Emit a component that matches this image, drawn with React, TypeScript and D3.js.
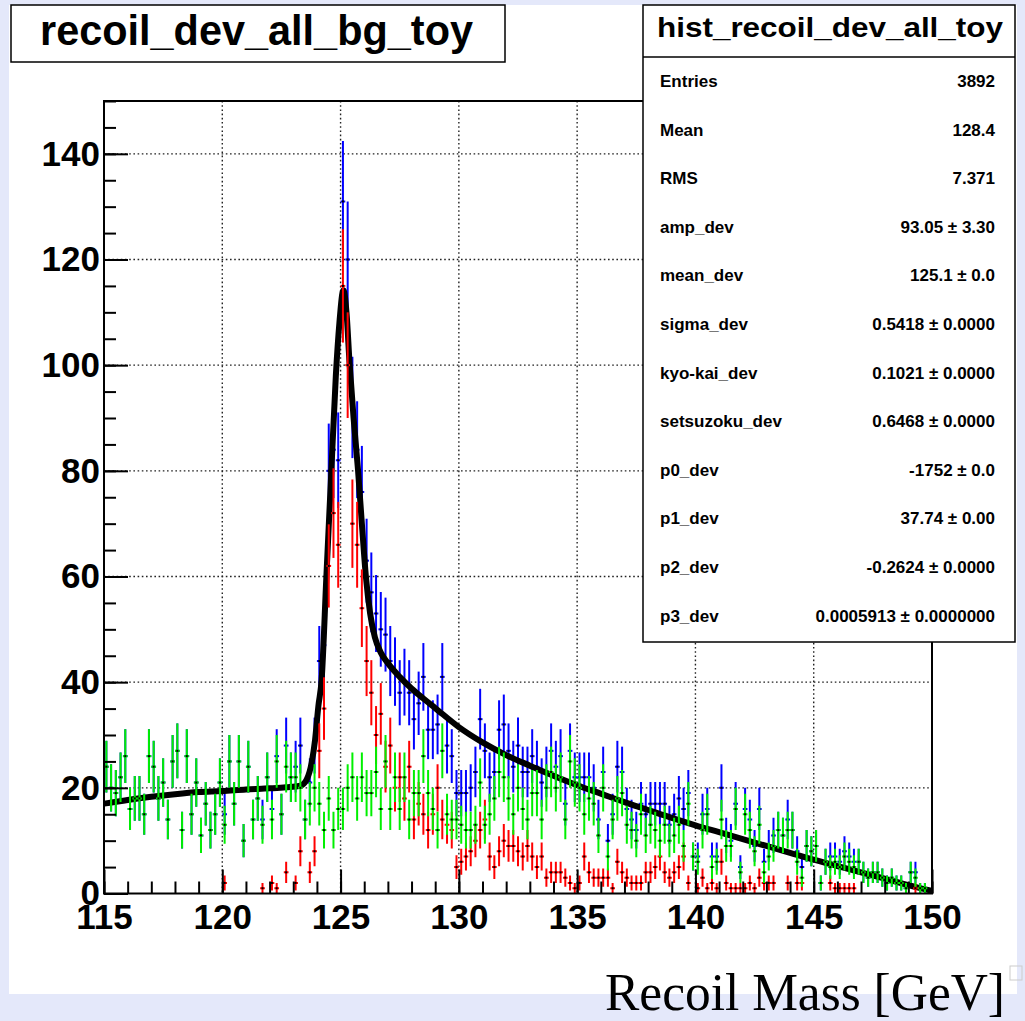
import React, { useEffect, useRef } from "react";
import * as d3 from "d3";

// histogram binning (x axis of the ROOT histograms)
const xMin = 115;
const xMax = 150;
const nBins = 175;

// background toy (green)
const bgCounts = [
  24, 20, 19, 22, 26, 16, 18, 18, 15, 26,
  24, 18, 21, 14, 25, 27, 12, 26, 15, 21,
  11, 17, 12, 15, 21, 13, 25, 17, 25, 10,
  24, 14, 18, 13, 22, 14, 25, 15, 24, 22,
  22, 20, 14, 17, 20, 17, 12, 18, 12, 16,
  16, 20, 22, 18, 22, 19, 19, 23, 16, 25,
  16, 22, 16, 22, 14, 19, 19, 26, 19, 16,
  12, 27, 15, 14, 14, 13, 12, 12, 13, 21,
  13, 15, 18, 23, 22, 18, 15, 20, 16, 14,
  19, 19, 14, 20, 23, 20, 22, 14, 25, 21,
  20, 15, 18, 17, 11, 20, 7, 14, 18, 19,
  13, 12, 10, 15, 11, 13, 12, 10, 13, 10,
  11, 13, 9, 17, 7, 6, 12, 15, 5, 6,
  14, 9, 9, 16, 4, 15, 12, 8, 13, 4,
  7, 9, 12, 11, 12, 12, 6, 3, 9, 8,
  9, 2, 6, 5, 6, 5, 7, 6, 5, 6,
  4, 3, 4, 4, 3, 2, 3, 2, 2, 1,
  4, 3, 1, 1, 0,
];

// signal toy (red)
const sigCounts = [
  0, 0, 0, 0, 0, 0, 0, 0, 0, 0,
  0, 0, 0, 0, 0, 0, 0, 0, 0, 0,
  0, 0, 0, 0, 0, 2, 0, 0, 0, 0,
  0, 0, 0, 1, 0, 2, 1, 0, 4, 0,
  2, 8, 0, 4, 8, 27, 35, 62, 72, 66,
  115, 100, 70, 66, 54, 44, 38, 30, 34, 24,
  28, 20, 22, 18, 24, 14, 17, 15, 12, 15,
  20, 14, 13, 12, 5, 6, 7, 8, 10, 12,
  14, 7, 5, 8, 10, 9, 9, 8, 7, 9,
  7, 5, 7, 3, 4, 4, 4, 3, 2, 1,
  2, 7, 4, 3, 3, 3, 3, 1, 6, 4,
  3, 2, 2, 2, 4, 4, 5, 7, 4, 3,
  4, 5, 7, 2, 0, 1, 3, 1, 2, 1,
  6, 2, 1, 1, 1, 1, 2, 1, 3, 2,
  2, 2, 0, 0, 2, 0, 2, 2, 0, 0,
  0, 0, 0, 2, 1, 1, 1, 1, 1, 0,
  0, 0, 0, 0, 0, 0, 0, 0, 0, 0,
  0, 1, 0, 0, 0,
];

// all toy (blue)
const allCounts = [
  24, 20, 19, 22, 26, 16, 18, 18, 15, 26,
  24, 18, 21, 14, 25, 27, 12, 26, 15, 21,
  11, 17, 12, 15, 21, 15, 25, 17, 25, 10,
  24, 14, 18, 14, 22, 16, 26, 15, 28, 22,
  24, 28, 14, 21, 28, 44, 47, 80, 84, 82,
  131, 120, 92, 84, 76, 63, 57, 53, 50, 49,
  44, 42, 38, 40, 38, 33, 36, 41, 31, 31,
  32, 41, 28, 26, 19, 19, 19, 20, 23, 33,
  27, 22, 23, 31, 32, 27, 24, 28, 23, 23,
  26, 24, 21, 23, 27, 24, 26, 17, 27, 22,
  22, 22, 22, 20, 14, 23, 10, 15, 24, 23,
  16, 14, 12, 17, 15, 17, 17, 17, 17, 13,
  15, 18, 16, 19, 7, 7, 15, 16, 7, 7,
  20, 11, 10, 17, 5, 16, 14, 9, 16, 6,
  9, 11, 12, 11, 14, 12, 8, 5, 9, 8,
  9, 2, 6, 7, 7, 6, 8, 7, 6, 6,
  4, 3, 4, 4, 3, 2, 3, 2, 2, 1,
  4, 4, 1, 1, 0,
];

// fitted curve
const fitX = [
  115, 116, 117, 118, 119, 120, 121, 122, 122.7, 123.3, 123.57, 123.78, 123.92,
  124.06, 124.2, 124.4, 124.6, 124.8, 124.95, 125.12, 125.25, 125.38, 125.55,
  125.74, 125.9, 126.07, 126.25, 126.45, 126.7, 127, 127.5, 128, 128.5,
  129, 130, 131, 132, 133, 134, 135, 136, 137, 138, 139,
  140, 141, 142, 143, 144, 145, 146, 147, 148, 149, 150,
];
const fitY = [
  17.0, 17.7, 18.3, 18.8, 19.2, 19.4, 19.7, 19.9, 20.1, 20.4, 21.6, 24.8, 29,
  35.4, 40.5, 60, 79, 98, 108, 114.2, 110, 100.4, 90,
  80, 70, 60, 53, 48.5, 45.6, 43.6, 41, 38.8, 36.9,
  35.1, 31.5, 28.6, 26.2, 24.2, 22.3, 20.5, 18.9, 17.3, 15.8, 14.3,
  12.9, 11.6, 10.3, 9.0, 7.7, 6.4, 5.2, 4.0, 2.8, 1.6, 0.5,
];

const xMajor = [115, 120, 125, 130, 135, 140, 145, 150];
const yMajor = [0, 20, 40, 60, 80, 100, 120, 140];
const xGrid = [120, 125, 130, 135, 140, 145];
const yGrid = [20, 40, 60, 80, 100, 120, 140];

const statLabels = [
  "Entries", "Mean", "RMS", "amp_dev", "mean_dev", "sigma_dev", "kyo-kai_dev",
  "setsuzoku_dev", "p0_dev", "p1_dev", "p2_dev", "p3_dev",
];
const statValues = [
  "3892", "128.4", "7.371", "93.05 \u00b1 3.30", "125.1 \u00b1 0.0",
  "0.5418 \u00b1 0.0000", "0.1021 \u00b1 0.0000", "0.6468 \u00b1 0.0000",
  "-1752 \u00b1 0.0", "37.74 \u00b1 0.00", "-0.2624 \u00b1 0.0000",
  "0.0005913 \u00b1 0.0000000",
];

const W = 1025;
const H = 1021;
const left = 104;
const right = 932;
const top = 101;
const bottom = 893.5;
const sans = "'Liberation Sans', Arial, Helvetica, sans-serif";

const x = d3.scaleLinear().domain([xMin, xMax]).range([left, right]);
const y = d3.scaleLinear().domain([0, 150]).range([bottom, top]);

function ErrorBars({ counts, color }: { counts: number[]; color: string }) {
  const bw = (xMax - xMin) / nBins;
  return (
    <g>
      {counts.map((n, i) => {
        if (n <= 0) return null;
        const lo = xMin + i * bw;
        const c = lo + bw / 2;
        const e = Math.sqrt(n);
        return (
          <g key={i}>
            <line x1={x(c)} x2={x(c)} y1={y(Math.max(0, n - e))} y2={y(n + e)} stroke={color} strokeWidth={2} />
            <line x1={x(lo)} x2={x(lo + bw)} y1={y(n)} y2={y(n)} stroke={color} strokeWidth={2} />
            <rect x={x(c) - 1} y={y(n) - 1} width={2} height={2} fill="#000" />
          </g>
        );
      })}
    </g>
  );
}

export default function App() {
  const axisRef = useRef<SVGGElement>(null);

  useEffect(() => {
    const g = d3.select(axisRef.current);
    g.selectAll("*").remove();

    const style = (sel: any) => {
      sel.select(".domain").remove();
      sel.selectAll("line").attr("stroke", "#000").attr("stroke-width", 2);
      sel.selectAll("text")
        .attr("fill", "#000")
        .style("font-family", sans)
        .style("font-weight", "bold")
        .style("font-size", "35px");
    };

    g.append("g")
      .attr("transform", `translate(0,${bottom})`)
      .call(d3.axisBottom(x).tickValues(d3.range(115, 151, 1)).tickSize(-12).tickFormat(() => ""))
      .call(style);
    g.append("g")
      .attr("transform", `translate(0,${bottom})`)
      .call(d3.axisBottom(x).tickValues(xMajor).tickSize(-24).tickPadding(11).tickFormat(d3.format("d")))
      .call(style);

    g.append("g")
      .attr("transform", `translate(${left},0)`)
      .call(d3.axisLeft(y).tickValues(d3.range(0, 151, 5)).tickSize(-12).tickFormat(() => ""))
      .call(style);
    g.append("g")
      .attr("transform", `translate(${left},0)`)
      .call(d3.axisLeft(y).tickValues(yMajor).tickSize(-24).tickPadding(4).tickFormat(d3.format("d")))
      .call(style);
  }, []);

  const fitLine = d3
    .line<number>()
    .x((d, i) => x(fitX[i]))
    .y((d) => y(d))
    .curve(d3.curveMonotoneX);

  return (
    <svg width={W} height={H} style={{ position: "absolute", left: 0, top: 0, display: "block" }}>
      <rect x={0} y={0} width={W} height={H} fill="#e4e8fa" />
      <rect x={9} y={5} width={1008} height={989} fill="#fff" />

      <defs>
        <clipPath id="plotClip">
          <rect x={left} y={top} width={right - left} height={bottom - top} />
        </clipPath>
      </defs>

      {/* grid */}
      <g stroke="#222" strokeWidth={1.4} strokeDasharray="1.6 2.6">
        {xGrid.map((v) => (
          <line key={v} x1={x(v)} x2={x(v)} y1={top} y2={bottom} />
        ))}
        {yGrid.map((v) => (
          <line key={v} x1={left} x2={right} y1={y(v)} y2={y(v)} />
        ))}
      </g>

      <g clipPath="url(#plotClip)">
        <ErrorBars counts={allCounts} color="#0000ff" />
        <path d={fitLine(fitY) || ""} fill="none" stroke="#000" strokeWidth={6} strokeLinejoin="round" />
        <ErrorBars counts={sigCounts} color="#ff0000" />
        <ErrorBars counts={bgCounts} color="#00f000" />
      </g>

      <g ref={axisRef} />
      <rect x={left} y={top} width={right - left} height={bottom - top} fill="none" stroke="#000" strokeWidth={2} />

      {/* title */}
      <rect x={11} y={5} width={494} height={57} fill="#fff" stroke="#000" strokeWidth={1.5} />
      <text x={40} y={45} textLength={433} lengthAdjust="spacingAndGlyphs"
        style={{ fontFamily: sans, fontWeight: "bold", fontSize: 42 }}>
        recoil_dev_all_bg_toy
      </text>

      {/* stats box */}
      <rect x={643} y={5} width={372} height={637} fill="#fff" stroke="#000" strokeWidth={1.5} />
      <line x1={643} x2={1015} y1={57} y2={57} stroke="#000" strokeWidth={1.5} />
      <text x={657} y={37} textLength={346} lengthAdjust="spacingAndGlyphs"
        style={{ fontFamily: sans, fontWeight: "bold", fontSize: 28 }}>
        hist_recoil_dev_all_toy
      </text>
      <g style={{ fontFamily: sans, fontWeight: "bold", fontSize: 17 }}>
        {statLabels.map((s, i) => (
          <text key={s} x={660} y={87 + 48.6 * i}>{s}</text>
        ))}
        {statValues.map((s, i) => (
          <text key={i} x={995} y={87 + 48.6 * i} textAnchor="end">{s}</text>
        ))}
      </g>

      {/* axis title */}
      <text x={605} y={1010} textLength={400} lengthAdjust="spacingAndGlyphs"
        style={{ fontFamily: "'Liberation Serif', 'DejaVu Serif', serif", fontSize: 52 }}>
        Recoil Mass [GeV]
      </text>
      <rect x={1010} y={966} width={12} height={14} fill="none" stroke="#ccc" strokeWidth={1} />
    </svg>
  );
}
